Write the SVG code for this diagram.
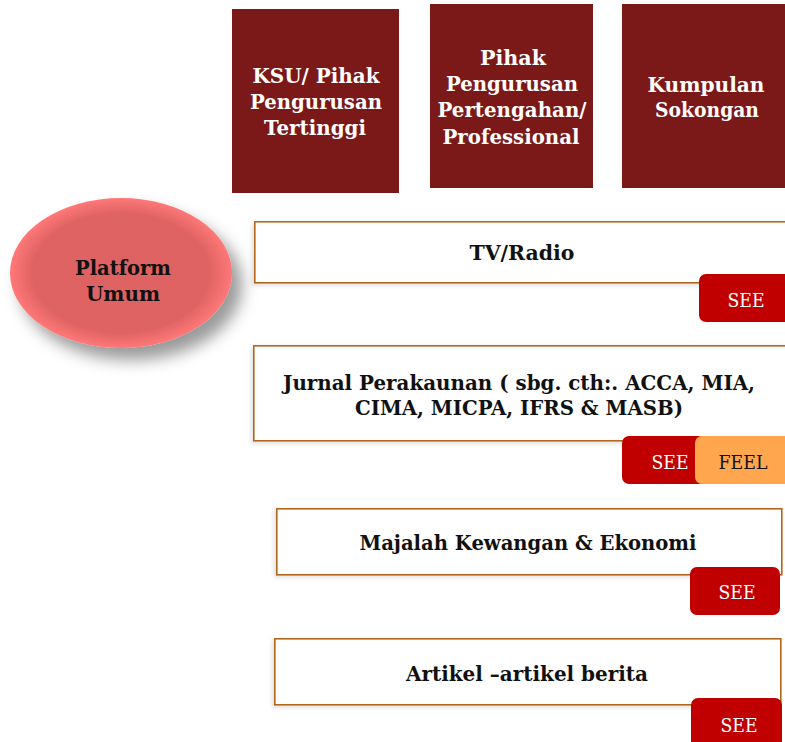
<svg xmlns="http://www.w3.org/2000/svg" width="785" height="742" viewBox="0 0 785 742">
  <style>
    .head { fill: #7B1818; }
    .head-t { fill: #FFFFFF; font-family: "DejaVu Serif", "Liberation Serif", serif; font-weight: bold; font-size: 20px; text-anchor: middle; }
    .media { fill: #FFFFFF; stroke: #B4661E; stroke-width: 1.6; }
    .media-t { fill: #111111; font-family: "DejaVu Serif", "Liberation Serif", serif; font-weight: bold; font-size: 19.5px; text-anchor: middle; }
    .see { fill: #C00000; }
    .feel { fill: #FFA64F; }
    .tag-t { font-family: "DejaVu Serif", "Liberation Serif", serif; font-size: 18px; text-anchor: middle; }
  </style>
  <defs>
    <radialGradient id="ovalFill" cx="50%" cy="50%" r="50%">
      <stop offset="0" stop-color="#DE6262"/>
      <stop offset="0.8" stop-color="#E06363"/>
      <stop offset="1" stop-color="#FF7878"/>
    </radialGradient>
    <filter id="softShadow" x="-20%" y="-20%" width="150%" height="160%">
      <feGaussianBlur in="SourceAlpha" stdDeviation="8"/>
      <feOffset dx="10" dy="12" result="b"/>
      <feFlood flood-color="#000000" flood-opacity="0.4"/>
      <feComposite in2="b" operator="in"/>
      <feMerge><feMergeNode/><feMergeNode in="SourceGraphic"/></feMerge>
    </filter>
    <filter id="boxShadow" x="-5%" y="-20%" width="110%" height="140%">
      <feGaussianBlur in="SourceAlpha" stdDeviation="2"/>
      <feOffset dx="-2" dy="2" result="b"/>
      <feFlood flood-color="#000000" flood-opacity="0.12"/>
      <feComposite in2="b" operator="in"/>
      <feMerge><feMergeNode/><feMergeNode in="SourceGraphic"/></feMerge>
    </filter>
  </defs>

  <rect width="785" height="742" fill="#FFFFFF"/>

  <!-- audience columns -->
  <g id="ksu">
    <rect class="head" x="232" y="9" width="167" height="184"/>
    <text class="head-t" x="316" y="83" textLength="127" lengthAdjust="spacingAndGlyphs">KSU/ Pihak</text>
    <text class="head-t" x="316" y="109" textLength="132" lengthAdjust="spacingAndGlyphs">Pengurusan</text>
    <text class="head-t" x="315" y="135" textLength="102" lengthAdjust="spacingAndGlyphs">Tertinggi</text>
  </g>
  <g id="pertengahan">
    <rect class="head" x="430" y="4" width="163" height="184"/>
    <text class="head-t" x="513" y="65" textLength="66" lengthAdjust="spacingAndGlyphs">Pihak</text>
    <text class="head-t" x="512" y="91" textLength="132" lengthAdjust="spacingAndGlyphs">Pengurusan</text>
    <text class="head-t" x="512" y="117" textLength="149" lengthAdjust="spacingAndGlyphs">Pertengahan/</text>
    <text class="head-t" x="511" y="144" textLength="137" lengthAdjust="spacingAndGlyphs">Professional</text>
  </g>
  <g id="kumpulan">
    <rect class="head" x="622" y="4" width="163" height="184"/>
    <text class="head-t" x="706" y="92" textLength="117" lengthAdjust="spacingAndGlyphs">Kumpulan</text>
    <text class="head-t" x="707" y="117" textLength="104" lengthAdjust="spacingAndGlyphs">Sokongan</text>
  </g>

  <!-- general platform -->
  <g id="platform">
    <ellipse cx="121" cy="273" rx="111" ry="75" fill="url(#ovalFill)" filter="url(#softShadow)"/>
    <text class="media-t" x="123" y="275" font-size="21" textLength="96" lengthAdjust="spacingAndGlyphs">Platform</text>
    <text class="media-t" x="123" y="301" font-size="21" textLength="74" lengthAdjust="spacingAndGlyphs">Umum</text>
  </g>

  <!-- media channels -->
  <g id="tvradio">
    <rect class="media" x="254.8" y="221.8" width="536" height="61" filter="url(#boxShadow)"/>
    <text class="media-t" x="522" y="260" textLength="105" lengthAdjust="spacingAndGlyphs">TV/Radio</text>
  </g>
  <g id="tvradio-see">
    <rect class="see" x="699" y="274" width="92" height="48" rx="7"/>
    <text class="tag-t" x="746" y="307" fill="#FFFFFF" textLength="37" lengthAdjust="spacingAndGlyphs">SEE</text>
  </g>

  <g id="jurnal">
    <rect class="media" x="253.8" y="345.8" width="536" height="95" filter="url(#boxShadow)"/>
    <text class="media-t" x="519" y="390" textLength="472" lengthAdjust="spacingAndGlyphs">Jurnal Perakaunan ( sbg. cth:. ACCA, MIA,</text>
    <text class="media-t" x="519" y="415" textLength="328" lengthAdjust="spacingAndGlyphs">CIMA, MICPA, IFRS &amp; MASB)</text>
  </g>
  <g id="jurnal-see">
    <rect class="see" x="622" y="436" width="100" height="48" rx="7"/>
    <text class="tag-t" x="670" y="469" fill="#FFFFFF" textLength="37" lengthAdjust="spacingAndGlyphs">SEE</text>
  </g>
  <g id="jurnal-feel">
    <rect class="feel" x="695" y="436" width="96" height="48" rx="7"/>
    <text class="tag-t" x="743" y="469" fill="#111111" textLength="49" lengthAdjust="spacingAndGlyphs">FEEL</text>
  </g>

  <g id="majalah">
    <rect class="media" x="276.8" y="508.8" width="505" height="66" filter="url(#boxShadow)"/>
    <text class="media-t" x="528" y="550" textLength="337" lengthAdjust="spacingAndGlyphs">Majalah Kewangan &amp; Ekonomi</text>
  </g>
  <g id="majalah-see">
    <rect class="see" x="690" y="567" width="90" height="48" rx="7"/>
    <text class="tag-t" x="737" y="599" fill="#FFFFFF" textLength="37" lengthAdjust="spacingAndGlyphs">SEE</text>
  </g>

  <g id="artikel">
    <rect class="media" x="274.8" y="638.8" width="506" height="66" filter="url(#boxShadow)"/>
    <text class="media-t" x="527" y="681" textLength="242" lengthAdjust="spacingAndGlyphs">Artikel –artikel berita</text>
  </g>
  <g id="artikel-see">
    <rect class="see" x="691" y="698" width="91" height="52" rx="7"/>
    <text class="tag-t" x="739" y="732" fill="#FFFFFF" textLength="37" lengthAdjust="spacingAndGlyphs">SEE</text>
  </g>
</svg>
